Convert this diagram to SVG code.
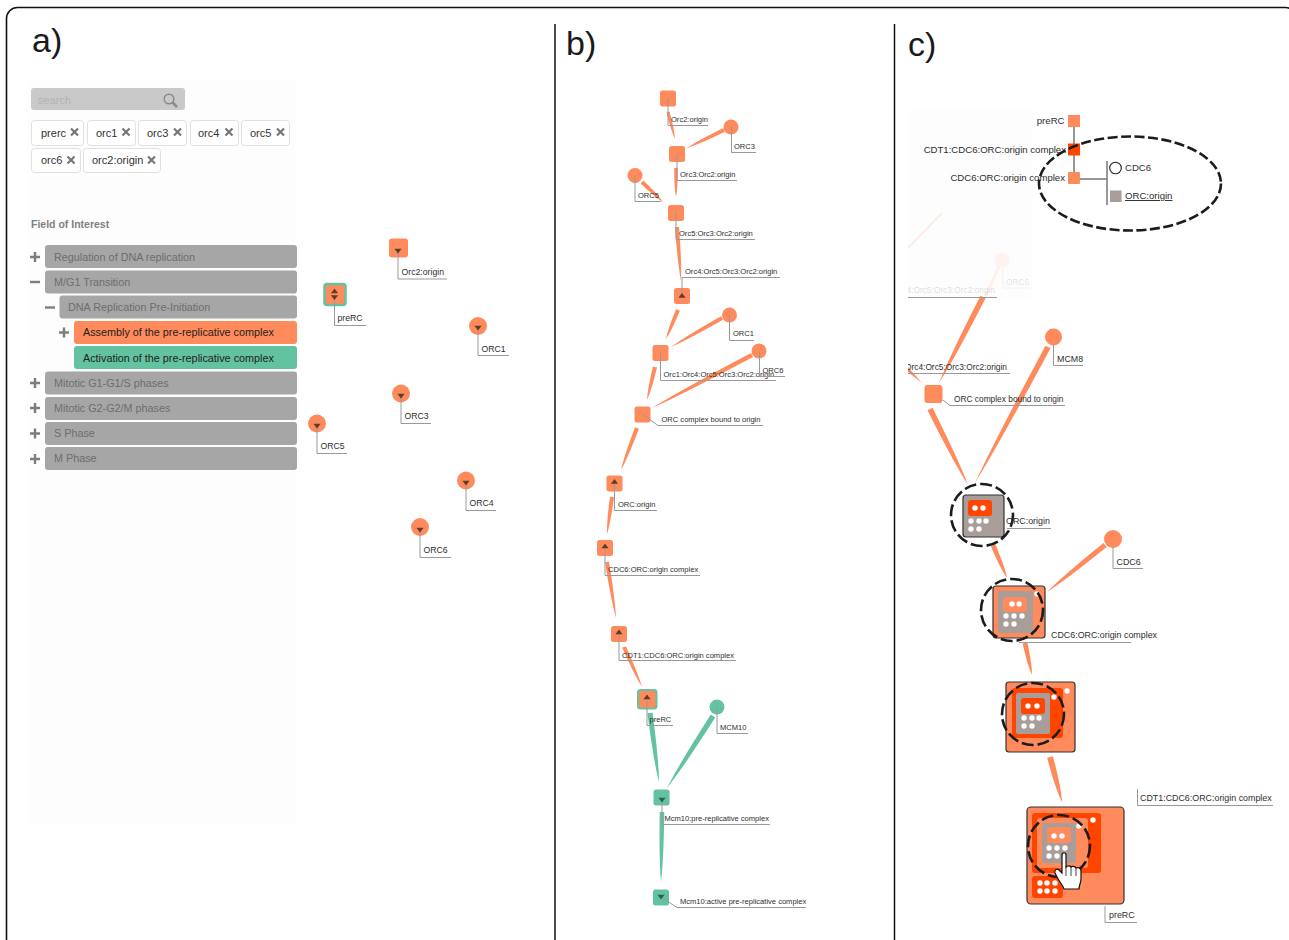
<svg xmlns="http://www.w3.org/2000/svg" xmlns:xlink="http://www.w3.org/1999/xlink" width="1289" height="940" viewBox="0 0 1289 940">
<style>
text{font-family:"Liberation Sans",Arial,sans-serif}
.title{font-size:34px;fill:#1a1a1a}
.la{font-size:8.700px;fill:#2e2e2e}
.lb{font-size:7.550px;fill:#2e2e2e}
.lc{font-size:8.900px;fill:#2e2e2e}
.ls{font-size:8.350px;fill:#2e2e2e}
.lh{font-size:9.600px;fill:#2e2e2e}
.ld{fill:none;stroke:#999;stroke-width:1}
.tag{fill:#fff;stroke:#e0e0e0;stroke-width:1}
.tt{font-size:11px;fill:#333}
.x{stroke:#777;stroke-width:2.200;fill:none}
.row{fill:#a6a6a6}
.rt{font-size:10.800px;fill:#6d6d6d}
.rk{font-size:10.800px;fill:#1e1e1e}
.pm{stroke:#7d7d7d;stroke-width:2.400;fill:none}
.o{fill:#ff8a5c}.g{fill:#63c2a0}.r{fill:#ff4500}.br{fill:#a89d98}.w{fill:#fff}
.tri{fill:#5f3d2c}
.trg{fill:#2f5f50}
.dash{fill:none;stroke:#1c1c1c;stroke-width:2.600;stroke-dasharray:12 4}
.dashe{fill:none;stroke:#1c1c1c;stroke-width:2.600;stroke-dasharray:10 3.500}
.box{stroke:#333;stroke-width:1.200}
</style>
<defs>
<path id="dn" d="M-3.600-2.200H3.600L0 2.600Z"/>
<path id="up" d="M-3.600 2.200H3.600L0-2.600Z"/>
<clipPath id="cp"><rect x="908" y="200" width="300" height="200"/></clipPath>
</defs>
<rect id="frame" x="6.500" y="7.500" width="1290" height="950" rx="11" fill="#fff" stroke="#111" stroke-width="1.600"/>
<rect x="27" y="80" width="268" height="745" fill="#fdfdfd"/>
<rect x="908" y="110" width="125" height="190" fill="#fdfdfd"/>
<path d="M555 24V940M894.500 24V940" stroke="#111" stroke-width="1.500" fill="none"/>
<text class="title" x="32" y="52">a)</text>
<text class="title" x="566" y="55">b)</text>
<text class="title" x="908" y="56">c)</text>

<g id="search">
<rect x="31" y="88" width="154" height="22" rx="3" fill="#c9c9c9"/>
<text x="38" y="104" font-size="11" fill="#b3b3b3">search</text>
<circle cx="169" cy="99" r="4.800" fill="none" stroke="#8a8a8a" stroke-width="1.500"/>
<path d="M172.500 102.500L177 107" stroke="#8a8a8a" stroke-width="2.500"/>
</g>
<g id="tags">
<rect class="tag" x="31.500" y="120.500" width="52" height="25" rx="3"/><text class="tt" x="41" y="137">prerc</text><path class="x" d="M71 128.500l7 7m0-7l-7 7"/>
<rect class="tag" x="87.500" y="120.500" width="48" height="25" rx="3"/><text class="tt" x="96" y="137">orc1</text><path class="x" d="M122.500 128.500l7 7m0-7l-7 7"/>
<rect class="tag" x="138.500" y="120.500" width="48" height="25" rx="3"/><text class="tt" x="147" y="137">orc3</text><path class="x" d="M174 128.500l7 7m0-7l-7 7"/>
<rect class="tag" x="190.500" y="120.500" width="48" height="25" rx="3"/><text class="tt" x="198" y="137">orc4</text><path class="x" d="M225.500 128.500l7 7m0-7l-7 7"/>
<rect class="tag" x="241.500" y="120.500" width="48" height="25" rx="3"/><text class="tt" x="250" y="137">orc5</text><path class="x" d="M277 128.500l7 7m0-7l-7 7"/>
<rect class="tag" x="31.500" y="148.500" width="49" height="24" rx="3"/><text class="tt" x="41" y="164">orc6</text><path class="x" d="M67.500 156.500l7 7m0-7l-7 7"/>
<rect class="tag" x="83.500" y="148.500" width="77" height="24" rx="3"/><text class="tt" x="92" y="164">orc2:origin</text><path class="x" d="M148 156.500l7 7m0-7l-7 7"/>
</g>
<text x="31" y="228" font-size="10.500" font-weight="bold" fill="#808080">Field of Interest</text>
<g id="list">
<rect class="row" x="45" y="245" width="252" height="23" rx="3"/><text class="rt" x="54" y="261">Regulation of DNA replication</text><path class="pm" d="M30 257h10M35 252v10"/>
<rect class="row" x="45" y="270.500" width="252" height="23" rx="3"/><text class="rt" x="54" y="286">M/G1 Transition</text><path class="pm" d="M30 282h10"/>
<rect class="row" x="59.500" y="295.500" width="237.500" height="23" rx="3"/><text class="rt" x="68" y="311">DNA Replication Pre-Initiation</text><path class="pm" d="M45 307.500h10"/>
<rect class="o" x="74" y="321" width="223" height="23" rx="3"/><text class="rk" x="83" y="336">Assembly of the pre-replicative complex</text><path class="pm" d="M59 332.500h10M64 327.500v10"/>
<rect class="g" x="74" y="346" width="223" height="23" rx="3"/><text class="rk" x="83" y="361.500">Activation of the pre-replicative complex</text>
<rect class="row" x="45" y="371.500" width="252" height="23" rx="3"/><text class="rt" x="54" y="387">Mitotic G1-G1/S phases</text><path class="pm" d="M30 383h10M35 378v10"/>
<rect class="row" x="45" y="397" width="252" height="23" rx="3"/><text class="rt" x="54" y="412">Mitotic G2-G2/M phases</text><path class="pm" d="M30 408h10M35 403v10"/>
<rect class="row" x="45" y="422" width="252" height="23" rx="3"/><text class="rt" x="54" y="437">S Phase</text><path class="pm" d="M30 433.500h10M35 428.500v10"/>
<rect class="row" x="45" y="447" width="252" height="23" rx="3"/><text class="rt" x="54" y="462">M Phase</text><path class="pm" d="M30 459h10M35 454v10"/>
</g>

<g id="panel-a-nodes">
<g id="a-orc2origin"><rect class="o" x="389" y="238.500" width="19" height="19" rx="3"/><path class="ld" d="M398 250V279H447"/><use xlink:href="#dn" class="tri" x="398" y="251"/><text class="la" x="401.500" y="275">Orc2:origin</text></g>
<g id="a-prerc"><rect class="o" x="324.500" y="284" width="21" height="21" rx="2.500" stroke="#63c2a0" stroke-width="2.500"/><path class="ld" d="M334.500 295V325.500H366"/><use xlink:href="#up" class="tri" x="334.500" y="291"/><use xlink:href="#dn" class="tri" x="334.500" y="297.500"/><text class="la" x="337.500" y="321">preRC</text></g>
<g id="a-orc1"><circle class="o" cx="478" cy="326" r="9"/><path class="ld" d="M478 328V355.500H509"/><use xlink:href="#dn" class="tri" x="478" y="328"/><text class="la" x="481.500" y="351.500">ORC1</text></g>
<g id="a-orc3"><circle class="o" cx="401" cy="393.500" r="9"/><path class="ld" d="M401 395V423.500H431"/><use xlink:href="#dn" class="tri" x="401" y="396"/><text class="la" x="404.500" y="419">ORC3</text></g>
<g id="a-orc5"><circle class="o" cx="317" cy="423.500" r="9"/><path class="ld" d="M317 425V453.500H347"/><use xlink:href="#dn" class="tri" x="317" y="426"/><text class="la" x="320.500" y="449">ORC5</text></g>
<g id="a-orc4"><circle class="o" cx="466" cy="480.500" r="9"/><path class="ld" d="M466 482V510.500H496"/><use xlink:href="#dn" class="tri" x="466" y="483"/><text class="la" x="469.500" y="506">ORC4</text></g>
<g id="a-orc6"><circle class="o" cx="420" cy="527" r="9"/><path class="ld" d="M420 529V557.500H451"/><use xlink:href="#dn" class="tri" x="420" y="530"/><text class="la" x="423.500" y="553">ORC6</text></g>
</g>

<g id="connectors">
<g id="b-connectors">
<path class="o" d="M669.500 111.600Q674.500 130.500 675 139Q671.300 131.300 666.500 112.400Z"/>
<path class="o" d="M724.900 131.800Q698.900 144.400 687 148Q697.100 140.800 723.100 128.200Z"/>
<path class="o" d="M677.800 168Q677.800 188 676 197Q674.200 188 674.200 168Z"/>
<path class="o" d="M643.400 180.500Q658.100 194.500 663 202Q655.300 197.500 640.600 183.500Z"/>
<path class="o" d="M679 227Q681.800 265 681 281Q677.800 265 675 227Z"/>
<path class="o" d="M679.900 310.800Q671.500 331.100 666 339Q667.700 329.500 676.100 309.200Z"/>
<path class="o" d="M723 319.800Q687.300 340 671 347Q685.300 336.500 721 316.200Z"/>
<path class="o" d="M657 367.500Q651.400 390.600 647 400Q647.400 389.600 653 366.500Z"/>
<path class="o" d="M753 356.900Q683 394 652 408Q681 390.200 751 353.100Z"/>
<path class="o" d="M638.900 428.700Q627.700 458.100 621 470Q623.900 456.700 635.100 427.300Z"/>
<path class="o" d="M614 497.300Q610.500 523.200 607 534Q606.500 522.600 610 496.700Z"/>
<path class="o" d="M609 561.700Q615.300 600.900 616 618Q611.300 601.500 605 562.300Z"/>
<path class="o" d="M625.800 646.200Q638.400 674.200 642 687Q634.800 675.800 622.200 647.800Z"/>
<path class="g" d="M652.600 712.700Q658.900 761 659 782Q653.700 761.600 647.400 713.300Z"/>
<path class="g" d="M715.200 717.400Q683 767.800 667 788Q678.600 765 710.800 714.600Z"/>
<path class="g" d="M664.300 812Q663.600 861 661 882Q659 861 659.700 812Z"/>
</g>
<g id="c-connectors">
<path d="M942 213L908 248" stroke="#ffece4" stroke-width="2" fill="none"/>
<path d="M1001 262L985 297" stroke="#fff0ea" stroke-width="3" fill="none"/>
<path class="o" d="M985.500 298.300Q954.700 358.500 939 383Q949.700 355.900 980.500 295.700Z"/>
<path class="o" d="M908 367L922 383L908 372Z"/>
<path class="o" d="M1050.500 348.300Q999.400 443.500 975 483Q994.400 440.900 1045.500 345.700Z"/>
<path class="o" d="M932.500 407.800Q959.100 461 968 485Q954.100 463.500 927.500 410.300Z"/>
<path class="o" d="M995.200 544.100Q1005 567.200 1007 578Q1000.600 569 990.800 545.900Z"/>
<path class="o" d="M1106.600 547Q1066 579.900 1047 592Q1062.800 575.900 1103.400 543Z"/>
<path class="o" d="M1027.400 642.500Q1032.200 664.900 1032 675Q1027.600 665.900 1022.600 643.500Z"/>
<path class="o" d="M1052.900 756.200Q1061.300 787.700 1062 802Q1055.500 789.300 1047.100 757.800Z"/>
</g>
</g>

<g id="panel-b-nodes">
<g id="b-orc2origin"><rect class="o" x="660" y="90.500" width="16" height="16" rx="2.500"/><path class="ld" d="M668 98V125.500H708"/><text class="lb" x="671" y="122">Orc2:origin</text></g>
<g id="b-orc3"><circle class="o" cx="731" cy="127" r="7.500"/><path class="ld" d="M731.500 127V152.500H756"/><text class="lb" x="734" y="149">ORC3</text></g>
<g id="b-orc3orc2"><rect class="o" x="669" y="146" width="16" height="16" rx="2.500"/><path class="ld" d="M677 154V180.500H737"/><text class="lb" x="680" y="177">Orc3:Orc2:origin</text></g>
<g id="b-orc5"><circle class="o" cx="635" cy="175.500" r="7.500"/><path class="ld" d="M635 175V201.500H661"/><text class="lb" x="638" y="198">ORC5</text></g>
<g id="b-orc5orc3"><rect class="o" x="668" y="205" width="16" height="16" rx="2.500"/><path class="ld" d="M676 212V239.500H755"/><text class="lb" x="679" y="236">Orc5:Orc3:Orc2:origin</text></g>
<g id="b-orc4orc5"><rect class="o" x="674" y="288" width="16" height="16" rx="2.500"/><path class="ld" d="M682 296V277.500H780"/><use xlink:href="#up" class="tri" x="682" y="295.500"/><text class="lb" x="685" y="274">Orc4:Orc5:Orc3:Orc2:origin</text></g>
<g id="b-orc1"><circle class="o" cx="729.500" cy="315" r="7.500"/><path class="ld" d="M729.500 315V340.500H754"/><text class="lb" x="733" y="336">ORC1</text></g>
<g id="b-orc1orc4"><rect class="o" x="652.500" y="345" width="16" height="16" rx="2.500"/><path class="ld" d="M660.500 353V380.500H776"/><text class="lb" x="663.500" y="376.500">Orc1:Orc4:Orc5:Orc3:Orc2:origin</text></g>
<g id="b-orc6"><circle class="o" cx="759" cy="351" r="7.500"/><path class="ld" d="M759.500 351V376.500H785"/><text class="lb" x="762.500" y="373">ORC6</text></g>
<g id="b-orccomplex"><rect class="o" x="634.500" y="406.500" width="16" height="16" rx="2.500"/><path class="ld" d="M642 414L658 425.500H763"/><text class="lb" x="661.500" y="422">ORC complex bound to origin</text></g>
<g id="b-orcorigin"><rect class="o" x="606.500" y="475.500" width="16" height="16" rx="2.500"/><path class="ld" d="M614.500 483V510.500H657"/><use xlink:href="#up" class="tri" x="614.500" y="481.500"/><text class="lb" x="618" y="507">ORC:origin</text></g>
<g id="b-cdc6"><rect class="o" x="597" y="540" width="16" height="16" rx="2.500"/><path class="ld" d="M605 546V575.500H700"/><use xlink:href="#up" class="tri" x="605" y="546"/><text class="lb" x="608" y="572">CDC6:ORC:origin complex</text></g>
<g id="b-cdt1"><rect class="o" x="611" y="626" width="16" height="16" rx="2.500"/><path class="ld" d="M619 632V660.500H736"/><use xlink:href="#up" class="tri" x="619" y="632"/><text class="lb" x="622" y="658">CDT1:CDC6:ORC:origin complex</text></g>
<g id="b-prerc"><rect class="o" x="638" y="690" width="18.500" height="18.500" rx="2.500" stroke="#63c2a0" stroke-width="2"/><path class="ld" d="M647 697V725.500H673"/><use xlink:href="#up" class="tri" x="647" y="697"/><text class="lb" x="649.500" y="722">preRC</text></g>
<g id="b-mcm10"><circle class="g" cx="717" cy="707" r="7.500"/><path class="ld" d="M717 707V733.500H748"/><text class="lb" x="720" y="730">MCM10</text></g>
<g id="b-mcm10pre"><rect class="g" x="653.500" y="789.500" width="16" height="16" rx="2.500"/><path class="ld" d="M662 800V824.500H770"/><use xlink:href="#dn" class="trg" x="662" y="800"/><text class="lb" x="664.500" y="821">Mcm10:pre-replicative complex</text></g>
<g id="b-mcm10act"><rect class="g" x="653" y="889.500" width="16" height="16" rx="2.500"/><path class="ld" d="M661 897L677 907.500H806"/><use xlink:href="#dn" class="trg" x="661" y="897"/><text class="lb" x="680" y="904">Mcm10:active pre-replicative complex</text></g>
</g>

<g id="panel-c-nodes">
<g id="c-hierarchy">
<path d="M1074 121V178M1074 179H1107M1107 161V205" stroke="#777" stroke-width="1.500" fill="none"/>
<rect class="o" x="1068" y="115" width="12" height="12"/>
<rect class="r" x="1068" y="143.500" width="12" height="12"/>
<rect class="o" x="1068" y="172" width="12" height="12" rx="1"/>
<circle cx="1115.500" cy="168" r="5.800" fill="#fff" stroke="#222" stroke-width="1.100"/>
<rect class="br" x="1110" y="190.500" width="11.500" height="11.500"/>
<text class="lh" x="1064.500" y="124" text-anchor="end">preRC</text>
<text class="lh" x="1066" y="153" text-anchor="end">CDT1:CDC6:ORC:origin complex</text>
<text class="lh" x="1065" y="181" text-anchor="end">CDC6:ORC:origin complex</text>
<text class="lh" x="1125" y="171">CDC6</text>
<text class="lh" x="1125" y="199" text-decoration="underline">ORC:origin</text>
<ellipse class="dashe" cx="1130" cy="183.500" rx="91" ry="47"/>
</g>
<g id="c-faded" clip-path="url(#cp)">
<circle cx="1002" cy="260" r="7.500" fill="#fff3ee"/>
<path d="M1003 268V288H1030" fill="none" stroke="#f2f2f2"/>
<text class="ls" x="1006" y="285" fill-opacity="0.15">ORC6</text>
<text class="ls" x="995" y="293" text-anchor="end" fill-opacity="0.18">Orc1:Orc4:Orc5:Orc3:Orc2:origin</text>
<path class="ld" d="M908 297.500H997"/>
<text class="ls" x="1007" y="370" text-anchor="end">Orc4:Orc5:Orc3:Orc2:origin</text>
<path class="ld" d="M908 373.500H1010"/>
</g>
<g id="c-orccomplex"><rect class="o" x="924.500" y="385" width="18" height="18" rx="3"/><path class="ld" d="M943 400L950 405.500H1065"/><text class="ls" x="954" y="401.500">ORC complex bound to origin</text></g>
<g id="c-mcm8"><circle class="o" cx="1053.500" cy="337" r="8.500"/><path class="ld" d="M1053.500 345V365.500H1083"/><text class="lc" x="1057" y="361.500">MCM8</text></g>
<g id="c-orcorigin">
<path class="ld" d="M1007 528.500H1051"/>
<rect class="br box" x="963" y="495" width="41" height="42" rx="3"/>
<rect class="r" x="968" y="500" width="24" height="16" rx="3"/>
<circle class="w" cx="975" cy="508" r="2.700"/><circle class="w" cx="983" cy="508" r="2.700"/>
<g class="w"><circle cx="971" cy="521" r="2.700"/><circle cx="979" cy="521" r="2.700"/><circle cx="986" cy="521" r="2.700"/><circle cx="971" cy="529" r="2.700"/><circle cx="979" cy="529" r="2.700"/></g>
<circle class="dash" cx="982" cy="515" r="31"/>
<text class="lc" x="1006" y="524">ORC:origin</text>
</g>
<g id="c-cdc6"><circle class="o" cx="1113" cy="539" r="9"/><path class="ld" d="M1113 547V568.500H1143"/><text class="lc" x="1116.500" y="565">CDC6</text></g>
<g id="c-cdc6complex">
<path class="ld" d="M1019 642.500H1131"/>
<rect class="o box" x="993" y="586" width="52" height="52" rx="3"/>
<rect class="br" x="998" y="591" width="35" height="42" rx="2"/>
<rect class="o" x="1003" y="597" width="24" height="15" rx="3"/>
<g class="w"><circle cx="1012" cy="604" r="2.700"/><circle cx="1019" cy="604" r="2.700"/><circle cx="1006" cy="616" r="2.700"/><circle cx="1014" cy="616" r="2.700"/><circle cx="1022" cy="616" r="2.700"/><circle cx="1006" cy="624" r="2.700"/><circle cx="1014" cy="624" r="2.700"/><circle cx="1037" cy="594" r="2.700"/></g>
<circle class="dash" cx="1012" cy="610" r="31"/>
<text class="lc" x="1051" y="638">CDC6:ORC:origin complex</text>
</g>
<g id="c-cdt1complex">
<rect class="o box" x="1006" y="682" width="69" height="70" rx="3"/>
<rect class="r" x="1012" y="688" width="51" height="50" rx="3"/>
<rect class="br" x="1016" y="693" width="34" height="41" rx="2"/>
<rect class="r" x="1021" y="698" width="24" height="16" rx="3"/>
<g class="w"><circle cx="1028" cy="706" r="2.700"/><circle cx="1037" cy="706" r="2.700"/><circle cx="1024" cy="718" r="2.700"/><circle cx="1032" cy="718" r="2.700"/><circle cx="1039" cy="718" r="2.700"/><circle cx="1024" cy="726" r="2.700"/><circle cx="1032" cy="726" r="2.700"/><circle cx="1067" cy="691" r="2.700"/><circle cx="1054" cy="697" r="2.700"/></g>
<circle class="dash" cx="1033" cy="714" r="31"/>
</g>
<g id="c-prerc">
<rect class="o box" x="1027" y="807" width="97" height="97" rx="4"/>
<rect class="r" x="1032" y="813" width="69" height="60" rx="3"/>
<rect class="o" x="1037" y="818" width="51" height="50" rx="3"/>
<rect class="br" x="1042" y="823" width="34" height="40" rx="2"/>
<rect class="o" x="1047" y="827" width="24" height="16" rx="3"/>
<rect class="r" x="1032" y="876" width="31" height="22" rx="3"/>
<g class="w"><circle cx="1054" cy="836" r="2.700"/><circle cx="1062" cy="836" r="2.700"/><circle cx="1049" cy="848" r="2.700"/><circle cx="1057" cy="848" r="2.700"/><circle cx="1065" cy="848" r="2.700"/><circle cx="1049" cy="856" r="2.700"/><circle cx="1057" cy="856" r="2.700"/><circle cx="1093" cy="820" r="2.700"/><circle cx="1079" cy="826" r="2.700"/>
<circle cx="1040" cy="883" r="2.700"/><circle cx="1047" cy="883" r="2.700"/><circle cx="1055" cy="883" r="2.700"/><circle cx="1040" cy="891" r="2.700"/><circle cx="1047" cy="891" r="2.700"/><circle cx="1055" cy="891" r="2.700"/></g>
<circle class="dash" cx="1059" cy="846" r="31"/>
<path d="M1062 855C1062 852 1066 852 1066 855V867C1067 866 1070 865 1071 867C1072 866 1075 866 1076 868C1078 867 1081 868 1081 871V879C1081 883 1079 885 1079 889H1064C1063 885 1060 883 1057 877L1055 873C1054 870 1057 868 1059 870L1062 873Z" fill="#fff" stroke="#111" stroke-width="1.200"/>
<path d="M1066 867V876M1071 867V876M1076 868V876" stroke="#111" stroke-width="0.800"/>
<path class="ld" d="M1105 906V922.500H1137"/><text class="lc" x="1109" y="918">preRC</text>
<path class="ld" d="M1137.500 789V805.500H1273"/><text class="lc" x="1140" y="801">CDT1:CDC6:ORC:origin complex</text>
</g>
</g>
</svg>
